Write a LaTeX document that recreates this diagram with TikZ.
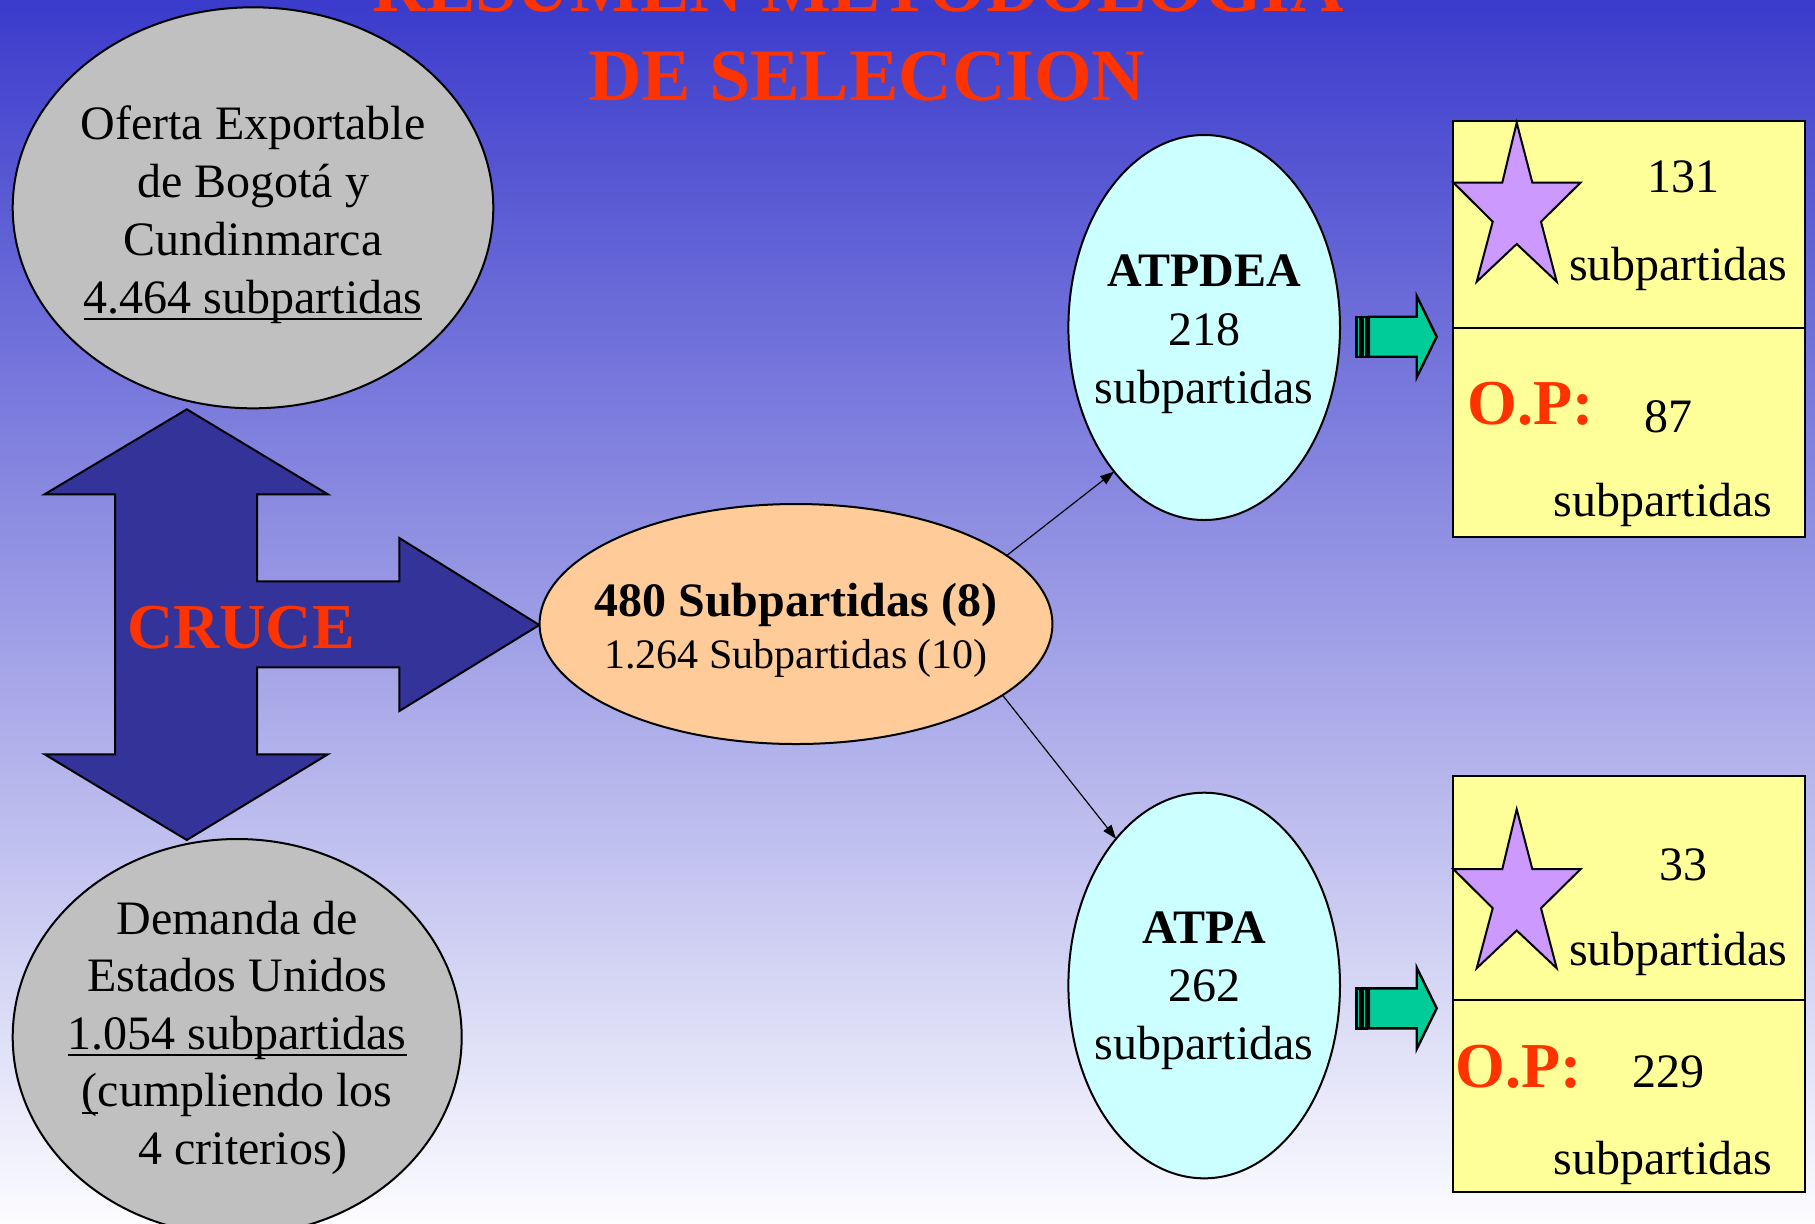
\documentclass[tikz,border=0pt]{standalone}
\usepackage{fontspec}
\setmainfont{Liberation Serif}
\usetikzlibrary{shapes.geometric,arrows.meta}
\definecolor{bgtop}{RGB}{59,59,204}
\definecolor{bgbot}{RGB}{252,252,255}
\definecolor{grayfill}{RGB}{192,192,192}
\definecolor{crossblue}{RGB}{51,51,153}
\definecolor{peach}{RGB}{255,204,153}
\definecolor{lightcyan}{RGB}{204,255,255}
\definecolor{paleyellow}{RGB}{255,255,153}
\definecolor{lilac}{RGB}{204,153,255}
\definecolor{sea}{RGB}{0,204,153}
\definecolor{redorange}{RGB}{255,51,0}
\newsavebox\ulbox
\newcommand\ulin[1]{\sbox\ulbox{#1}\rlap{\rule[-3.5pt]{\wd\ulbox}{1pt}}\usebox\ulbox}
\newcommand\elltext[3]{\raisebox{#1}[0pt][0pt]{\makebox[0pt]{\fontsize{24}{#2}\selectfont\begin{tabular}[t]{@{}c@{}}#3\end{tabular}}}}
\tikzset{
  ell/.style={ellipse, draw=black, line width=1pt, inner sep=0pt, outer sep=0pt},
  cell/.style={rectangle, draw=black, line width=1pt, fill=paleyellow, minimum width=176.15pt, inner sep=0pt},
  txt/.style={inner sep=0pt, anchor=base, font=\fontsize{24}{29}\selectfont},
  optxt/.style={inner sep=0pt, anchor=base, font=\fontsize{32}{38}\selectfont\bfseries, text=redorange},
  titletxt/.style={inner sep=0pt, anchor=base, font=\fontsize{37}{44}\selectfont\bfseries, text=redorange},
  conn/.style={line width=0.6pt, -{Triangle[length=7pt,width=5pt]}},
  blockarrow/.style={fill=crossblue, draw=black, line width=1pt, line join=miter},
  greenarrow/.style={fill=sea, draw=black, line width=1.2pt, line join=miter},
  starshape/.style={fill=lilac, draw=black, line width=1pt, line join=miter}
}
\begin{document}
\begin{tikzpicture}[x=0.5pt,y=-0.5pt]
\useasboundingbox (0,0) rectangle (1815,1223);
\shade[top color=bgtop, bottom color=bgbot] (0,0) rectangle (1815,1223);

% title
\node[titletxt] (title1) at (858.5,11.7) {RESUMEN METODOLOGIA};
\node[titletxt] (title2) at (866.7,100) {DE SELECCION};

% cross block arrow
\draw[blockarrow] (186.8,409.3) -- (327.9,494.3) -- (257.1,494.3) -- (257.1,581.3)
  -- (399.3,581.3) -- (399.3,538) -- (539.3,625) -- (399.3,711) -- (399.3,667.3)
  -- (257.1,667.3) -- (257.1,754.3) -- (327.9,754.3) -- (186.8,840) -- (44.6,754.3)
  -- (115,754.3) -- (115,494.3) -- (44.6,494.3) -- cycle;
\node[optxt] (cruce) at (241,648) {CRUCE};

% ellipses
\node[ell, fill=grayfill, minimum width=240.3pt, minimum height=200.5pt] (oferta) at (253,207.8)
  {\elltext{34.25pt}{29pt}{Oferta Exportable\hspace{6pt}\\ de Bogotá y\\ Cundinmarca\\ \ulin{4.464 subpartidas}}};
\node[ell, fill=grayfill, minimum width=224.5pt, minimum height=198pt] (demanda) at (237.2,1037)
  {\elltext{51.5pt}{28.8pt}{Demanda de\\ Estados Unidos\\ \ulin{1.054 subpartidas}\\ \ulin{(}cumpliendo los\\ \hspace{6pt}4 criterios)}};
\node[ell, fill=peach, minimum width=256.4pt, minimum height=120pt] (central) at (796,624)
  {\elltext{4pt}{26.15pt}{{\bfseries 480 Subpartidas (8)}\\ {\fontsize{21}{26}\selectfont 1.264 Subpartidas (10)}}};
\node[ell, fill=lightcyan, minimum width=135.8pt, minimum height=192.5pt] (atpdea) at (1204.2,327.5)
  {\elltext{20.4pt}{29.15pt}{\textbf{ATPDEA}\\ 218\hspace{6pt}\\ subpartidas}};
\node[ell, fill=lightcyan, minimum width=135.8pt, minimum height=192.8pt] (atpa) at (1204.2,985.5)
  {\elltext{21.1pt}{29.15pt}{\textbf{ATPA}\\ 262\\ subpartidas}};

% connectors
\draw[conn] (central.18.9) -- (atpdea.238.8);
\draw[conn] (central.341.2) -- (atpa.121.2);

% green striped arrows
\foreach \dy in {0,671.6}{
  \begin{scope}[shift={(0,\dy)}]
    \draw[greenarrow] (1356.5,316.7) rectangle (1360,356.7);
    \draw[greenarrow] (1362.5,316.7) rectangle (1366.5,356.7);
    \draw[greenarrow] (1369,316.7) -- (1416.7,316.7) -- (1416.7,296) -- (1436.7,336.7)
      -- (1416.7,377.4) -- (1416.7,356.7) -- (1369,356.7) -- cycle;
  \end{scope}
}

% yellow boxes
\node[cell, minimum height=103.65pt] (boxAa) at (1628.85,224.35) {};
\node[cell, minimum height=104.35pt] (boxAb) at (1628.85,432.35) {};
\node[cell, minimum height=112pt] (boxBa) at (1628.85,888) {};
\node[cell, minimum height=96.15pt] (boxBb) at (1628.85,1096.15) {};

% stars
\foreach \dy in {0,686.5}{
  \draw[starshape, shift={(0,\dy)}] (1516.7,122.7) -- (1532.3,182.5) -- (1580.7,182.5)
    -- (1541,221.7) -- (1556.7,281.7) -- (1516.7,244) -- (1476.7,281.7) -- (1492.7,221.7)
    -- (1453.3,182.5) -- (1502.3,182.5) -- cycle;
}

% box texts
\node[txt] (nA1) at (1683,192.7) {131};
\node[txt] (sA1) at (1678.3,280) {subpartidas};
\node[optxt] (opA) at (1531,424) {O.P:};
\node[txt] (nA2) at (1668.7,432.3) {87};
\node[txt] (sA2) at (1663,516.7) {subpartidas};

\node[txt] (nB1) at (1683.7,880) {33};
\node[txt] (sB1) at (1678.3,965) {subpartidas};
\node[optxt] (opB) at (1518.5,1087.7) {O.P:};
\node[txt] (nB2) at (1668,1087.7) {229};
\node[txt] (sB2) at (1663,1174.3) {subpartidas};
\end{tikzpicture}
\end{document}
